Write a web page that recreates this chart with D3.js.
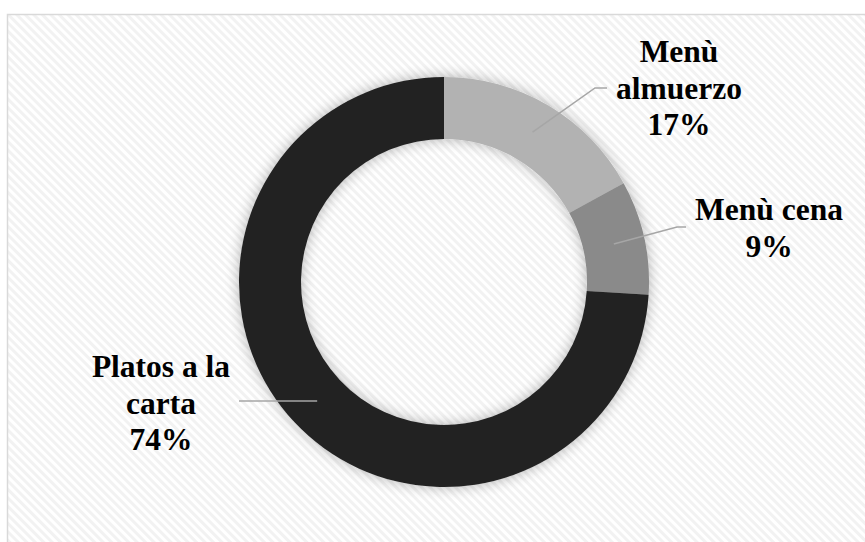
<!DOCTYPE html>
<html>
<head>
<meta charset="utf-8">
<script src="https://cdn.jsdelivr.net/npm/d3@7"></script>
<style>
  html, body { margin: 0; padding: 0; background: #ffffff; }
  svg { display: block; }
</style>
</head>
<body>
<svg id="chart" width="865" height="542"></svg>
<script>
// Share of sales by menu type
const categories = ["Menù almuerzo", "Menù cena", "Platos a la carta"];
const values = [17, 9, 74];
const labelLines = [["Menù", "almuerzo", "17%"], ["Menù cena", "9%"], ["Platos a la", "carta", "74%"]];
const colors = ["#b2b2b2", "#8a8a8a", "#232323"];

// Label placement: text centre x, first baseline y, and the elbow of the leader line
const labelLayout = [
  { x: 679, y: 62, elbowX: 595, elbowY: 88, endX: 607 },
  { x: 769, y: 220, elbowX: 677, elbowY: 227, endX: 686 },
  { x: 161, y: 377, elbowX: null, elbowY: null, endX: 239 }
];

const W = 865, H = 542;
const cx = 444, cy = 282;
const outerR = 205, innerR = 143;
const lineH = 36.7;

const svg = d3.select("#chart");
const defs = svg.append("defs");

// Fine diagonal hatch for the chart area
const pat = defs.append("pattern")
  .attr("id", "hatch")
  .attr("patternUnits", "userSpaceOnUse")
  .attr("width", 6).attr("height", 6)
  .attr("patternTransform", "rotate(-45)");
pat.append("rect").attr("width", 6).attr("height", 6).attr("fill", "#ffffff");
pat.append("rect").attr("width", 3).attr("height", 6).attr("fill", "#f2f2f2");

// Soft shadow around the ring
const f = defs.append("filter").attr("id", "soft")
  .attr("x", "-20%").attr("y", "-20%").attr("width", "140%").attr("height", "140%");
f.append("feGaussianBlur").attr("in", "SourceAlpha").attr("stdDeviation", 7).attr("result", "b");
f.append("feComponentTransfer").attr("in", "b").attr("result", "s")
  .append("feFuncA").attr("type", "linear").attr("slope", 0.3);
const m = f.append("feMerge");
m.append("feMergeNode").attr("in", "s");
m.append("feMergeNode").attr("in", "SourceGraphic");

// Chart frame
svg.append("rect")
  .attr("x", 7.5).attr("y", 14.5)
  .attr("width", 900).attr("height", 600)
  .attr("fill", "url(#hatch)")
  .attr("stroke", "#d9d9d9").attr("stroke-width", 1.5);

const data = categories.map((c, i) => ({ name: c, value: values[i], lines: labelLines[i], color: colors[i], layout: labelLayout[i] }));

const pie = d3.pie().sort(null).value(d => d.value);
const arc = d3.arc().innerRadius(innerR).outerRadius(outerR);
const arcs = pie(data);

const g = svg.append("g").attr("transform", `translate(${cx},${cy})`);

g.append("g").attr("filter", "url(#soft)")
  .selectAll("path")
  .data(arcs)
  .join("path")
  .attr("d", arc)
  .attr("fill", d => d.data.color);

// Leader lines from each segment's centroid to its label
svg.append("g")
  .selectAll("polyline")
  .data(arcs)
  .join("polyline")
  .attr("points", d => {
    const [x0, y0] = arc.centroid(d);
    const L = d.data.layout;
    const p0 = [cx + x0, cy + y0];
    const ey = L.elbowY === null ? p0[1] : L.elbowY;
    const ex = L.elbowX === null ? p0[0] : L.elbowX;
    return [p0, [ex, ey], [L.endX, ey]].map(p => p.join(",")).join(" ");
  })
  .attr("fill", "none")
  .attr("stroke", "#a6a6a6")
  .attr("stroke-width", 1.5);

// Data labels
const labels = svg.append("g")
  .attr("font-family", "'Liberation Serif', 'Times New Roman', serif")
  .attr("font-weight", "bold")
  .attr("font-size", 31.5)
  .attr("fill", "#000")
  .attr("text-anchor", "middle");

labels.selectAll("text")
  .data(data)
  .join("text")
  .attr("x", d => d.layout.x)
  .attr("y", d => d.layout.y)
  .each(function (d) {
    d3.select(this).selectAll("tspan")
      .data(d.lines)
      .join("tspan")
      .attr("x", d.layout.x)
      .attr("dy", (t, i) => i === 0 ? 0 : lineH)
      .text(t => t);
  });
</script>
</body>
</html>
